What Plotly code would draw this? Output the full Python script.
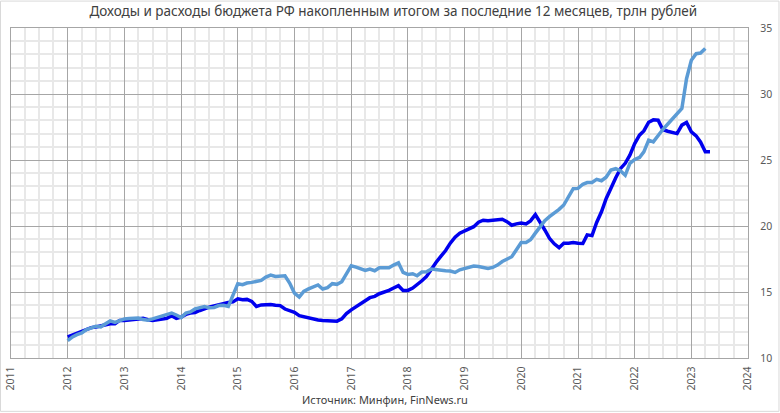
import pandas as pd
import plotly.graph_objects as go

# monthly values, trln rub
revenue = [
    11.6, 11.75, 11.9, 12.05, 12.2, 12.3, 12.35, 12.45, 12.5, 12.6, 12.6, 12.85,
    12.85, 12.9, 12.95, 13.0, 13.0, 12.9, 12.85, 12.9, 12.95, 13.0, 13.2, 13.0,
    13.1, 13.3, 13.4, 13.45, 13.6, 13.75, 13.85, 13.95, 14.05, 14.1, 14.2, 14.25,
    14.49, 14.42, 14.44, 14.29, 13.91, 14.02, 14.05, 14.05, 14.0, 13.97, 13.71, 13.61,
    13.46, 13.21, 13.13, 13.03, 12.96, 12.88, 12.85, 12.83, 12.83, 12.79, 12.96, 13.37,
    13.65, 13.91, 14.16, 14.34, 14.57, 14.67, 14.87, 14.97, 15.12, 15.3, 15.48, 15.12,
    15.12, 15.3, 15.53, 15.85, 16.18, 16.74, 17.24, 17.7, 18.14, 18.7, 19.15, 19.46,
    19.63, 19.76, 19.95, 20.29, 20.44, 20.39, 20.44, 20.49, 20.51, 20.33, 20.06, 20.16,
    20.23, 20.16, 20.39, 20.86, 20.33, 19.7, 19.07, 18.65, 18.36, 18.7, 18.7, 18.75,
    18.7, 18.68, 19.33, 19.27, 20.27, 21.08, 22.07, 22.95, 23.66, 24.34, 24.75, 25.37,
    26.25, 26.88, 27.2, 27.86, 28.04, 28.01, 27.31, 27.18, 27.08, 27.0, 27.64, 27.84,
    27.13, 26.83, 26.37, 25.62, 25.62,
]
expenses = [
    11.32, 11.6, 11.77, 11.9, 12.15, 12.28, 12.4, 12.36, 12.58, 12.81, 12.7, 12.86,
    12.96, 13.0, 13.03, 13.03, 12.91, 12.86, 12.96, 13.08, 13.16, 13.26, 13.41, 13.26,
    13.06, 13.41, 13.49, 13.72, 13.8, 13.9, 13.8, 13.83, 13.97, 13.99, 13.91, 14.75,
    15.63, 15.55, 15.68, 15.73, 15.78, 15.88, 16.13, 16.28, 16.18, 16.21, 16.23, 15.68,
    14.92, 14.62, 15.05, 15.23, 15.38, 15.53, 15.23, 15.33, 15.63, 15.58, 15.78, 16.44,
    16.99, 16.89, 16.76, 16.63, 16.74, 16.61, 16.84, 16.84, 16.84, 17.04, 17.21, 16.48,
    16.33, 16.38, 16.23, 16.51, 16.53, 16.74, 16.68, 16.63, 16.61, 16.59, 16.48, 16.68,
    16.76, 16.86, 16.96, 16.93, 16.86, 16.78, 16.86, 17.04, 17.31, 17.52, 17.67, 18.2,
    18.75, 18.75, 18.96, 19.46, 19.95, 20.41, 20.71, 20.96, 21.26, 21.59, 22.2, 22.83,
    22.85, 23.16, 23.29, 23.3, 23.53, 23.43, 23.7, 24.24, 24.34, 24.18, 23.84, 24.74,
    25.04, 25.19, 25.62, 26.5, 26.37, 26.88, 27.31, 27.71, 28.12, 28.5, 28.9, 31.16,
    32.55, 33.05, 33.1, 33.45,
]
rev_dates = pd.date_range("2012-01-01", periods=len(revenue), freq="MS")
exp_dates = pd.date_range("2012-01-01", periods=len(expenses), freq="MS")

title = "Доходы и расходы бюджета РФ накопленным итогом за последние 12 месяцев, трлн рублей"
source = "Источник: Минфин, FinNews.ru"
font_name = "Noto Sans"

fig = go.Figure()
fig.add_trace(go.Scatter(x=rev_dates, y=revenue, mode="lines", name="Доходы",
                         line=dict(color="#0000EE", width=3.5)))
fig.add_trace(go.Scatter(x=exp_dates, y=expenses, mode="lines", name="Расходы",
                         line=dict(color="#5B9BD5", width=3.5)))

fig.update_layout(
    width=780, height=413,
    autosize=False,
    margin=dict(l=11, r=31.5, t=27.5, b=54.5),
    paper_bgcolor="white",
    plot_bgcolor="white",
    showlegend=False,
    font=dict(family=font_name, size=10.5, color="#595959"),
    title=dict(text=title, x=0.5187, xanchor="center", xref="paper", y=0.972, yanchor="middle",
               automargin=False,
               font=dict(family=font_name, size=13.5, color="#404040")),
)
fig.update_xaxes(
    type="date",
    automargin=False,
    range=["2011-01-01", "2024-01-01"],
    dtick="M12",
    tick0="2011-01-01",
    tickformat="%Y",
    tickangle=-90,
    ticks="",
    ticklabelstandoff=3,
    gridcolor="#A6A6A6",
    gridwidth=1.4,
    minor=dict(dtick="M3", tick0="2011-01-01", showgrid=True, gridcolor="#E8E8E8", gridwidth=1.5),
    showline=True, linecolor="#A6A6A6", linewidth=1.4, mirror=True,
    zeroline=False,
)
fig.update_yaxes(
    automargin=False,
    range=[10, 35],
    dtick=5,
    side="right",
    ticks="",
    ticklabelstandoff=9,
    gridcolor="#A6A6A6",
    gridwidth=1.4,
    minor=dict(dtick=1, showgrid=True, gridcolor="#E8E8E8", gridwidth=1.5),
    showline=True, linecolor="#A6A6A6", linewidth=1.4, mirror=True,
    zeroline=False,
)
fig.add_annotation(text=source, xref="paper", yref="paper", x=0.508, y=-0.127,
                   xanchor="center", yanchor="middle", showarrow=False,
                   font=dict(family=font_name, size=11, color="#404040"))
# thin outer frame of the original image
fig.add_shape(type="rect", xref="paper", yref="paper", layer="below",
              x0=-10.5 / 737.5, x1=768.5 / 737.5, y0=-53.5 / 331, y1=358 / 331,
              line=dict(color="#D9D9D9", width=1), fillcolor="rgba(0,0,0,0)")

# page body has an 8px default margin, drop it so the figure sits at 0,0
fig.write_html("out.html", config={"displayModeBar": False},
               post_script="document.body.style.margin='0';")
